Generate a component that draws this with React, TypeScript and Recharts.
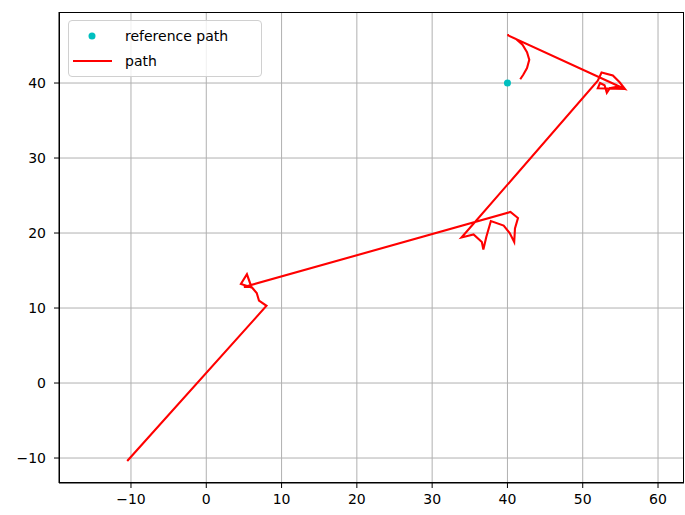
import React from 'react';
import {
  ComposedChart,
  Line,
  Scatter,
  XAxis,
  YAxis,
  CartesianGrid,
} from 'recharts';

// path the robot actually drove (x, y)
const pathX = [
  -10.5, 8.0, 7.0, 6.7, 6.1, 4.6, 5.4, 6.0, 5.0,
  40.4, 41.4, 41.0, 40.9, 40.3, 39.5, 37.8, 37.2, 36.8, 36.6, 35.5, 33.9,
  52.0, 52.5, 54.0, 54.9, 55.6, 54.5, 53.6, 53.2, 52.9, 52.3, 52.0, 55.6,
  40.0, 41.1, 42.0, 42.6, 42.9, 42.6, 42.1, 41.7,
];
const pathY = [
  -10.4, 10.3, 11.0, 12.0, 12.7, 13.2, 14.5, 12.8, 12.8,
  22.8, 22.0, 20.6, 18.8, 20.0, 21.0, 21.6, 19.5, 17.8, 18.8, 19.8, 19.4,
  40.3, 41.4, 41.0, 40.1, 39.2, 39.5, 39.3, 38.7, 39.7, 40.0, 39.3, 39.2,
  46.4, 45.9, 45.1, 44.1, 43.1, 42.0, 41.1, 40.5,
];

const refX = [40];
const refY = [40];

const xTicks = [-10, 0, 10, 20, 30, 40, 50, 60];
const yTicks = [-10, 0, 10, 20, 30, 40];

const pathData = pathX.map((x, i) => ({ x, y: pathY[i] }));
const refData = refX.map((x, i) => ({ x, y: refY[i] }));

const FONT = '"DejaVu Sans", sans-serif';
const fmt = (v: number) => String(v).replace('-', '\u2212');

export default function App() {
  return (
    <div style={{ position: 'absolute', left: 0, top: 0, width: 685, height: 515, background: '#fff' }}>
      <ComposedChart
        width={685}
        height={515}
        margin={{ top: 12, right: 1, bottom: 0, left: 0 }}
      >
        <CartesianGrid stroke="#b0b0b0" strokeWidth={1} horizontalValues={yTicks} verticalValues={xTicks} />
        <XAxis
          type="number"
          dataKey="x"
          domain={[-19.56, 63.45]}
          ticks={xTicks}
          tickFormatter={fmt}
          allowDataOverflow
          height={32}
          stroke="#000"
          tickSize={5}
          tickMargin={6}
          tick={{ fill: '#000', fontSize: 14, fontFamily: FONT }}
        />
        <YAxis
          type="number"
          dataKey="y"
          domain={[-13.33, 49.47]}
          ticks={yTicks}
          tickFormatter={fmt}
          allowDataOverflow
          width={59}
          stroke="#000"
          tickSize={5}
          tickMargin={8}
          tick={{ fill: '#000', fontSize: 14, fontFamily: FONT }}
        />
        <Line
          data={pathData}
          dataKey="y"
          type="linear"
          stroke="#ff0000"
          strokeWidth={2.1}
          dot={false}
          isAnimationActive={false}
        />
        <Scatter
          data={refData}
          dataKey="y"
          fill="#00bfbf"
          shape={(p: any) => <circle cx={p.cx} cy={p.cy} r={3.5} fill="#00bfbf" />}
          isAnimationActive={false}
        />
      </ComposedChart>
      {/* frame: top and right spines */}
      <div
        style={{
          position: 'absolute',
          left: 59,
          top: 12,
          width: 625,
          height: 471,
          border: '1px solid #000',
          boxSizing: 'border-box',
          pointerEvents: 'none',
        }}
      />
      {/* legend */}
      <div
        style={{
          position: 'absolute',
          left: 68,
          top: 20,
          width: 194,
          height: 57,
          border: '1px solid #d0d0d0',
          borderRadius: 4,
          background: 'rgba(255,255,255,0.8)',
          boxSizing: 'border-box',
          fontFamily: FONT,
          fontSize: 14,
          color: '#000',
        }}
      >
        <svg width={194} height={57} style={{ position: 'absolute', left: -1, top: -1 }}>
          <circle cx={24} cy={16} r={3.5} fill="#00bfbf" />
          <line x1={5} y1={41} x2={44} y2={41} stroke="#ff0000" strokeWidth={2} />
          <text x={57} y={21} fontFamily={FONT} fontSize={14}>reference path</text>
          <text x={57} y={46} fontFamily={FONT} fontSize={14}>path</text>
        </svg>
      </div>
    </div>
  );
}
